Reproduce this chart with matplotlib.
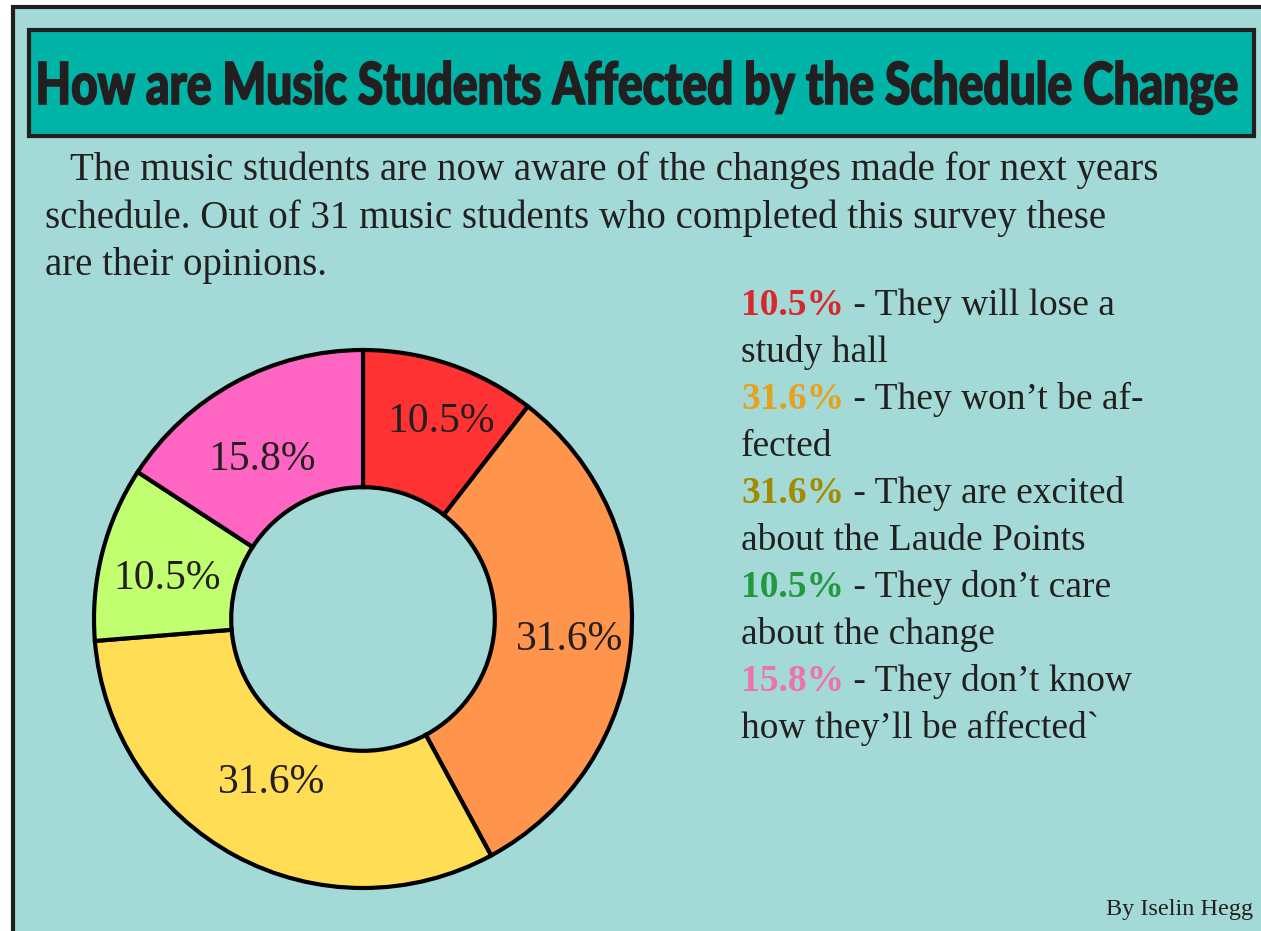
import matplotlib.pyplot as plt
from matplotlib.patches import Rectangle, PathPatch
from matplotlib.textpath import TextPath
from matplotlib.font_manager import FontProperties
from matplotlib.transforms import Affine2D

# data
shares = [10.5, 31.6, 31.6, 10.5, 15.8]
wedge_colors = ['#FF3333', '#FF944D', '#FFDD55', '#C2FF70', '#FF66C4']
key_colors = ['#D7282F', '#E6A11C', '#A38A00', '#22983F', '#EE72AC']
key_first = ['They will lose a', 'They won\u2019t be af-', 'They are excited',
             'They don\u2019t care', 'They don\u2019t know']
key_second = ['study hall', 'fected', 'about the Laude Points',
              'about the change', 'how they\u2019ll be affected`']
title = 'How are Music Students Affected by the Schedule Change'
intro = ['The music students are now aware of the changes made for next years',
         'schedule. Out of 31 music students who completed this survey these',
         'are their opinions.']
credit = 'By Iselin Hegg'

# small hand nudges (pixels) for the ring labels, as in the original layout
label_nudge = [(13, -6), (5, 4), (5, -14), (0, 9), (-5, 18)]

W, H = 1261, 931
ink = '#231F20'
serif = 'Liberation Serif'

fig = plt.figure(figsize=(W / 100, H / 100), dpi=100, facecolor='white')

# full-figure axes in pixel units (y goes down)
bg = fig.add_axes([0, 0, 1, 1])
bg.set_xlim(0, W)
bg.set_ylim(H, 0)
bg.axis('off')

# page panel with black border on left/top
bg.add_patch(Rectangle((13, 7), W + 20, H + 20, facecolor='#A3DAD7',
                       edgecolor=ink, lw=3))

# title banner
bg.add_patch(Rectangle((29, 30), 1225, 106, facecolor='#00B5A8',
                       edgecolor=ink, lw=3))
fp = FontProperties(family='Lato', weight='black')
tp = TextPath((0, 0), title, size=1, prop=fp)
ext = tp.get_extents()
cap = TextPath((0, 0), 'H', size=1, prop=fp).get_extents().y1
sx = (1237 - 39) / ext.width
sy = 42 / cap
tr = Affine2D().translate(-ext.x0, 0).scale(sx, -sy).translate(39, 104)
bg.add_patch(PathPatch(tr.transform_path(tp), facecolor=ink, edgecolor=ink,
                       lw=1.2))

# intro paragraph
fs = 27
bg.text(70, 180, intro[0], fontsize=28, family=serif, color=ink, va='baseline')
bg.text(45, 228, intro[1], fontsize=28, family=serif, color=ink, va='baseline')
bg.text(45, 275, intro[2], fontsize=28, family=serif, color=ink, va='baseline')

# key on the right
renderer = fig.canvas.get_renderer()
y = 315
for v, c, a, b in zip(shares, key_colors, key_first, key_second):
    t = bg.text(741, y, f'{v}%', fontsize=fs, family=serif, weight='bold',
                color=c, va='baseline')
    w = t.get_window_extent(renderer).width
    bg.text(741 + w, y, ' - ' + a, fontsize=fs, family=serif, color=ink,
            va='baseline')
    bg.text(741, y + 47, b, fontsize=fs, family=serif, color=ink, va='baseline')
    y += 94

bg.text(1253, 915, credit, fontsize=17.5, family=serif, color=ink,
        ha='right', va='baseline')

# donut
cx, cy, r = 363, 619, 269
ax = fig.add_axes([(cx - r) / W, (H - cy - r) / H, 2 * r / W, 2 * r / H])
wedges, _, pcts = ax.pie(shares, colors=wedge_colors, startangle=90,
                         counterclock=False, autopct='%.1f%%', pctdistance=0.75,
                         wedgeprops=dict(width=0.51, edgecolor='black', lw=3),
                         textprops=dict(fontsize=30, family=serif, color=ink))
for wd in wedges:
    wd.set_clip_on(False)
for p, (dx, dy) in zip(pcts, label_nudge):
    px, py = p.get_position()
    p.set_position((px + dx / r, py - dy / r))
ax.set_xlim(-1, 1)
ax.set_ylim(-1, 1)
ax.set_aspect('equal')
ax.axis('off')

fig.savefig('out.png', dpi=100, facecolor='white')
